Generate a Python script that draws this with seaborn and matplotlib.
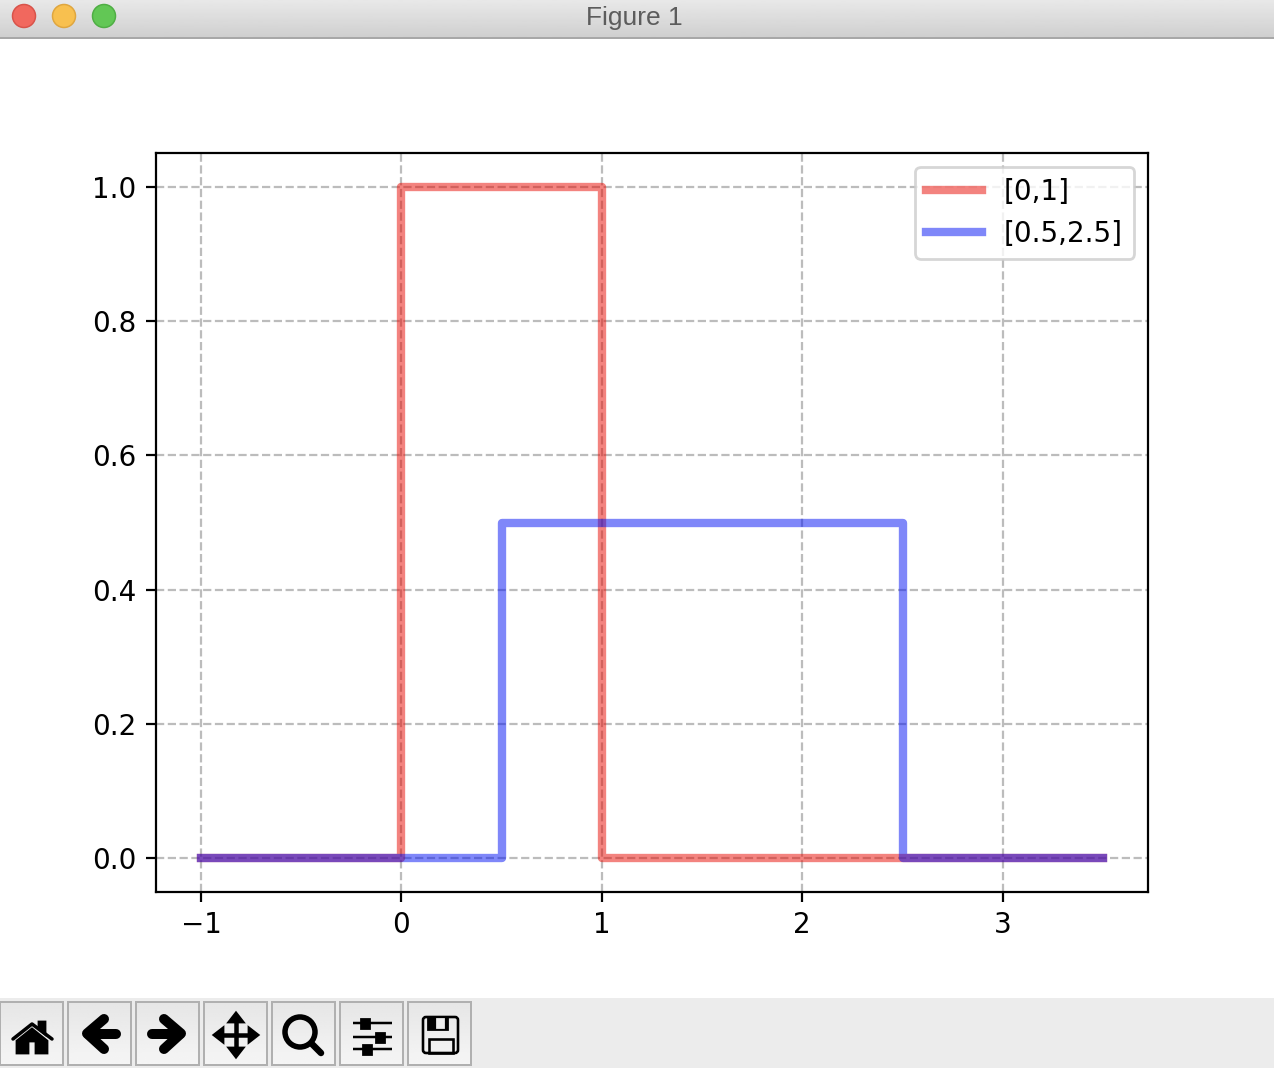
import numpy as np
import pandas as pd
import seaborn as sns
import matplotlib.pyplot as plt
from matplotlib.patches import Circle, Polygon, Rectangle, FancyBboxPatch

# DATA
labels = ["[0,1]", "[0.5,2.5]"]
x_red = [-1, 0, 0, 1, 1, 3.5]
y_red = [0, 0, 1, 1, 0, 0]
x_blue = [-1, 0.5, 0.5, 2.5, 2.5, 3.5]
y_blue = [0, 0, 0.5, 0.5, 0, 0]
x_ticks = [-1, 0, 1, 2, 3]
y_ticks = [0.0, 0.2, 0.4, 0.6, 0.8, 1.0]
button_lefts = [0, 68, 136, 204, 272, 340, 408]

W, H = 1274, 1068
PX = 72 / 200  # one pixel in points


def gradient(ax, x0, x1, y0, y1, top, bottom):
    vals = np.linspace(top, bottom, 32).reshape(-1, 1)
    ax.imshow(vals, cmap="gray", vmin=0, vmax=255, extent=(x0, x1, y1, y0),
              aspect="auto", zorder=1, interpolation="bilinear")


def stroke(ax, xs, ys, width, cap="round"):
    ax.plot(xs, ys, color="black", lw=width * PX, solid_capstyle=cap,
            solid_joinstyle="round", zorder=3)


def draw_window(ax):
    # TITLE BAR
    gradient(ax, 0, W, 0, 37, 232, 208)
    ax.plot([0, W], [37.5, 37.5], color="#a8a8a8", lw=2 * PX, zorder=2)
    for cx, face, edge in [(24, "#f1685e", "#d8534a"), (64, "#f8c04f", "#dfa63f"), (104, "#62c755", "#4fae44")]:
        ax.add_patch(Circle((cx, 16), 11.5, facecolor=face, edgecolor=edge, lw=1.5 * PX, zorder=3))
    ax.text(634, 18, "Figure 1", ha="center", va="center", color="#5c5c5c",
            family="Liberation Sans", fontsize=9.5, zorder=3)

    # TOOLBAR
    ax.add_patch(Rectangle((0, 998), W, 70, facecolor="#ececec", edgecolor="none", zorder=1))
    for left in button_lefts:
        gradient(ax, left, left + 63, 1002, 1065, 230, 245)
        ax.add_patch(Rectangle((left, 1002), 63, 63, facecolor="none", edgecolor="#b0b0b0",
                               lw=2 * PX, zorder=2))

    # home
    stroke(ax, [13, 32, 52], [1039, 1024, 1039], 3.5)
    ax.add_patch(Polygon([(17, 1041), (32, 1029), (47, 1041), (47, 1053), (36, 1053), (36, 1041),
                          (28, 1041), (28, 1053), (17, 1053)], color="black", zorder=3))
    ax.add_patch(Polygon([(39, 1022), (45, 1022), (45, 1034), (39, 1029)], color="black", zorder=3))
    # back / forward
    stroke(ax, [116, 88], [1033.5, 1033.5], 10)
    stroke(ax, [104, 87, 104], [1019, 1033.5, 1049], 10)
    stroke(ax, [152, 180], [1033.5, 1033.5], 10)
    stroke(ax, [164, 181, 164], [1019, 1033.5, 1049], 10)
    # move
    stroke(ax, [218, 254], [1035, 1035], 4.5, "butt")
    stroke(ax, [236, 236], [1017, 1053], 4.5, "butt")
    for pts in [[(214, 1035), (223, 1028), (223, 1042)], [(258, 1035), (249, 1028), (249, 1042)],
                [(236, 1013), (229, 1022), (243, 1022)], [(236, 1057), (229, 1048), (243, 1048)]]:
        ax.add_patch(Polygon(pts, color="black", zorder=3))
    # zoom
    ax.add_patch(Circle((300, 1032), 15, facecolor="none", edgecolor="black", lw=5.5 * PX, zorder=3))
    stroke(ax, [312, 321], [1044, 1053], 6.5)
    # sliders
    for y, knob in [(1023, 365), (1037, 380), (1049, 367)]:
        stroke(ax, [353, 392], [y, y], 2.5, "butt")
        ax.add_patch(Rectangle((knob - 4, y - 4.5), 8, 9, color="black", zorder=3))
    # save
    ax.add_patch(FancyBboxPatch((423, 1017), 35, 36, boxstyle="round,pad=0,rounding_size=3",
                                facecolor="none", edgecolor="black", lw=2.6 * PX, zorder=3))
    ax.add_patch(Rectangle((428, 1017), 19, 12, color="black", zorder=3))
    ax.add_patch(Rectangle((437, 1019), 6, 8, color="#ececec", zorder=4))
    ax.add_patch(Rectangle((429, 1039), 24, 14, facecolor="none", edgecolor="black", lw=2.6 * PX, zorder=3))


df = pd.DataFrame({
    "x": x_red + x_blue,
    "y": y_red + y_blue,
    "interval": [labels[0]] * len(x_red) + [labels[1]] * len(x_blue),
})

fig = plt.figure(figsize=(W / 200, H / 200), dpi=200, facecolor="white")

# WINDOW CHROME
bg = fig.add_axes([0, 0, 1, 1], zorder=0)
draw_window(bg)
bg.set_xlim(0, W)
bg.set_ylim(H, 0)
bg.axis("off")

# PLOT
ax = fig.add_axes([156 / W, 1 - 892 / H, (1148 - 156) / W, (892 - 153) / H], zorder=1)
sns.lineplot(data=df, x="x", y="y", hue="interval", sort=False, estimator=None,
             palette=["#e80800", "#0010f5"], alpha=0.5, lw=3, ax=ax,
             solid_capstyle="projecting")
ax.grid(True, linestyle="--", color="#bcbcbc", lw=0.8)
ax.set_xticks(x_ticks)
ax.set_yticks(y_ticks)
ax.set(xlabel="", ylabel="")
ax.set_xlim(-1.225, 3.725)
ax.set_ylim(-0.05, 1.05)
ax.legend(loc="upper right")

fig.savefig("out.png", dpi=200)
plt.close()
